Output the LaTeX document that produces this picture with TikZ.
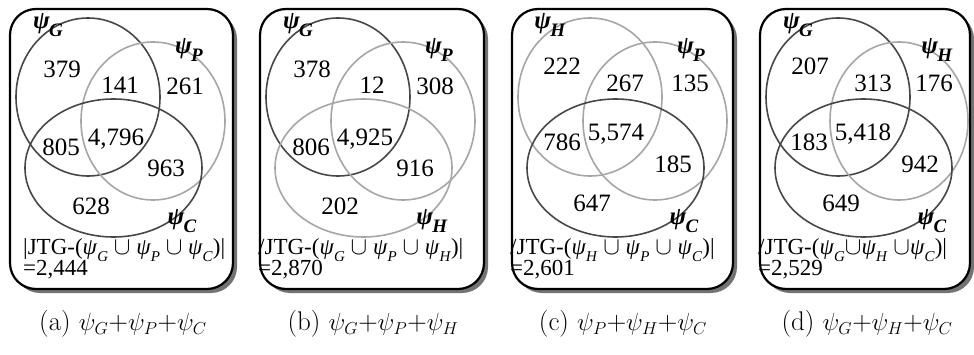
\documentclass[tikz,border=0pt]{standalone}
\usepackage{fontspec}
\newfontfamily\tnr{Liberation Serif}
\newcommand{\slbl}[1]{\textbf{\textit{ψ}}\kern-0.03em\raisebox{-0.3em}{\fontsize{19}{19}\selectfont\textbf{\textit{#1}}}}
\newcommand{\jp}[1]{\textit{ψ}\raisebox{-0.3em}{\fontsize{15}{15}\selectfont\textit{#1}}}
\begin{document}
\begin{tikzpicture}[x=1pt,y=-1pt]
\tikzset{
 panelbox/.style={draw=black, line width=2.2pt, rounded corners=26pt, fill=white},
 pshadow/.style={fill=black!55, rounded corners=26pt},
 darkset/.style={draw=black!72, line width=1.6pt},
 lightset/.style={draw=black!35, line width=1.6pt},
 num/.style={font=\tnr\fontsize{25}{25}\selectfont, inner sep=0pt},
 setlbl/.style={font=\tnr\fontsize{25}{25}\selectfont, inner sep=0pt},
 jtg/.style={font=\tnr\fontsize{23}{23}\selectfont, inner sep=0pt, anchor=west},
 capt/.style={font=\fontsize{27}{27}\selectfont, inner sep=0pt},
}
\useasboundingbox (0,0) rectangle (974,355);

% ---------- (a)
\begin{scope}[xshift=10pt]
\fill[pshadow] (4,13) rectangle (227,293);
\draw[panelbox] (0,9) rectangle (223,289);
\draw[darkset] (78,97) ellipse[x radius=72, y radius=79];
\draw[lightset] (143,121) ellipse[x radius=72, y radius=79];
\draw[darkset] (103.5,168) ellipse[x radius=88.5, y radius=69];
\node[setlbl] (aL1) at (38,25) {\slbl{G}};
\node[setlbl] (aL2) at (179,50) {\slbl{P}};
\node[setlbl] (aL3) at (172,221) {\slbl{C}};
\node[num] (an1) at (52,69) {379};
\node[num] (an12) at (110,85) {141};
\node[num] (an2) at (175,86) {261};
\node[num] (an13) at (51,147) {805};
\node[num] (an123) at (106,139) {4,796};
\node[num] (an23) at (156,168) {963};
\node[num] (an3) at (81,206) {628};
\node[jtg] (aj) at (13,250) {|JTG-(\jp{G} $\cup$ \jp{P} $\cup$ \jp{C})|};
\node[jtg] (ae) at (13,270) {=2,444};
\node[capt] (ac) at (113,324) {(a) $\psi_G$+$\psi_P$+$\psi_C$};
\end{scope}

% ---------- (b)
\begin{scope}[xshift=260pt]
\fill[pshadow] (4,13) rectangle (228,293);
\draw[panelbox] (0,9) rectangle (224,289);
\draw[darkset] (78,97) ellipse[x radius=72, y radius=79];
\draw[lightset] (143,121) ellipse[x radius=72, y radius=79];
\draw[lightset] (103.5,168) ellipse[x radius=88.5, y radius=69];
\node[setlbl] (bL1) at (38,25) {\slbl{G}};
\node[setlbl] (bL2) at (179,50) {\slbl{P}};
\node[setlbl] (bL3) at (172,221) {\slbl{H}};
\node[num] (bn1) at (52,69) {378};
\node[num] (bn12) at (112,85) {12};
\node[num] (bn2) at (175,86) {308};
\node[num] (bn13) at (51,147) {806};
\node[num] (bn123) at (105,139) {4,925};
\node[num] (bn23) at (155,168) {916};
\node[num] (bn3) at (80,206) {202};
\node[jtg] (bj) at (-2,250) {/JTG-(\jp{G} $\cup$ \jp{P} $\cup$ \jp{H})|};
\node[jtg] (be) at (-2,270) {=2,870};
\node[capt] (bc) at (113,324) {(b) $\psi_G$+$\psi_P$+$\psi_H$};
\end{scope}

% ---------- (c)
\begin{scope}[xshift=512pt]
\fill[pshadow] (4,13) rectangle (225,293);
\draw[panelbox] (0,9) rectangle (221,289);
\draw[lightset] (78,97) ellipse[x radius=72, y radius=79];
\draw[lightset] (143,121) ellipse[x radius=72, y radius=79];
\draw[darkset] (103.5,168) ellipse[x radius=88.5, y radius=69];
\node[setlbl] (cL1) at (38,25) {\slbl{H}};
\node[setlbl] (cL2) at (179,50) {\slbl{P}};
\node[setlbl] (cL3) at (172,221) {\slbl{C}};
\node[num] (cn1) at (50,66) {222};
\node[num] (cn12) at (113,83) {267};
\node[num] (cn2) at (178,83) {135};
\node[num] (cn13) at (50,142) {786};
\node[num] (cn123) at (104,134) {5,574};
\node[num] (cn23) at (161,164) {185};
\node[num] (cn3) at (80,203) {647};
\node[jtg] (cj) at (-2,250) {/JTG-(\jp{H} $\cup$ \jp{P} $\cup$ \jp{C})|};
\node[jtg] (ce) at (-2,270) {=2,601};
\node[capt] (cc) at (111,324) {(c) $\psi_P$+$\psi_H$+$\psi_C$};
\end{scope}

% ---------- (d)
\begin{scope}[xshift=760pt]
\fill[pshadow] (4,13) rectangle (214,293);
\draw[panelbox] (0,9) rectangle (210,289);
\draw[darkset] (78,97) ellipse[x radius=72, y radius=79];
\draw[lightset] (139,121) ellipse[x radius=69, y radius=79];
\draw[darkset] (103.5,168) ellipse[x radius=88.5, y radius=69];
\node[setlbl] (dL1) at (38,25) {\slbl{G}};
\node[setlbl] (dL2) at (177,50) {\slbl{H}};
\node[setlbl] (dL3) at (172,221) {\slbl{C}};
\node[num] (dn1) at (50,66) {207};
\node[num] (dn12) at (113,83) {313};
\node[num] (dn2) at (174,83) {176};
\node[num] (dn13) at (49,142) {183};
\node[num] (dn123) at (103,134) {5,418};
\node[num] (dn23) at (160,164) {942};
\node[num] (dn3) at (81,203) {649};
\node[jtg] (dj) at (-2,250) {/JTG-(\jp{G}$\cup$\jp{H} $\cup$\jp{C})|};
\node[jtg] (de) at (-2,270) {=2,529};
\node[capt] (dc) at (107,324) {(d) $\psi_G$+$\psi_H$+$\psi_C$};
\end{scope}
\end{tikzpicture}
\end{document}
